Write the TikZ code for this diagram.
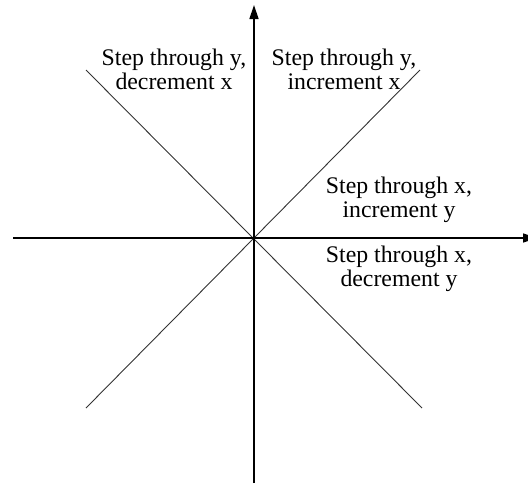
\documentclass[tikz,border=0pt]{standalone}
\usepackage{fontspec}
\setmainfont{Liberation Serif}
\usetikzlibrary{arrows.meta}
\begin{document}
\begin{tikzpicture}[x=1pt,y=-1pt,
  axis/.style={line width=1.4pt,-{Stealth[length=14pt,width=9pt,inset=0pt]}},
  diag/.style={line width=0.9pt,black!80},
  lbl/.style={font=\fontsize{23.8}{24}\selectfont,align=center,inner sep=0pt}]
\useasboundingbox (0,0) rectangle (528,483);
\coordinate (O) at (254,238);
\coordinate (xl) at (13,238);
\coordinate (xr) at (537,238);
\coordinate (yb) at (254,483);
\coordinate (yt) at (254,5);
\coordinate (ul) at (86,70);
\coordinate (ur) at (420,70);
\coordinate (ll) at (86,408);
\coordinate (lr) at (422,408);
\draw[diag] (ul) -- (lr);
\draw[diag] (ll) -- (ur);
\draw[axis] (xl) -- (xr);
\draw[axis] (yb) -- (yt);
\node[lbl] (tl) at (174,69) {Step through y,\\decrement x};
\node[lbl] (tr) at (344,69) {Step through y,\\increment x};
\node[lbl] (r1) at (399,200) {Step through x,\\increment y};
\node[lbl] (r2) at (399,269) {Step through x,\\decrement y};
\end{tikzpicture}
\end{document}
